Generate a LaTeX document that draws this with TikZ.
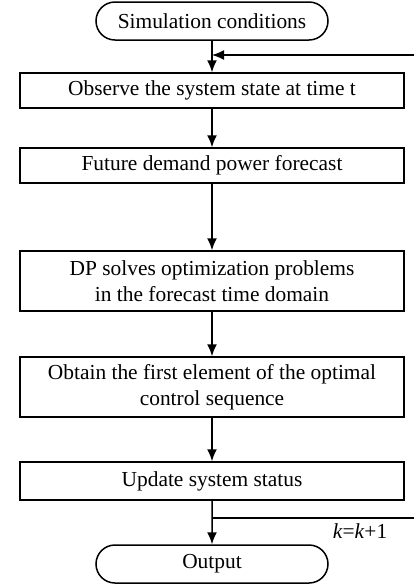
\documentclass[tikz,border=0pt]{standalone}
\usepackage{fontspec}
\setmainfont{Liberation Serif}
\usetikzlibrary{shapes.misc,arrows.meta}
\begin{document}
\begin{tikzpicture}[x=0.5pt,y=-0.5pt,
  font=\fontsize{10.7}{13}\selectfont,
  line width=0.75pt,
  procbox/.style={draw,rectangle,minimum width=192pt,align=center,inner sep=0pt},
  termbox/.style={draw,rounded rectangle,minimum width=116pt,minimum height=19pt,inner sep=0pt},
  flow/.style={-{Latex[length=6pt,width=5pt]}}]
\useasboundingbox (0,0) rectangle (414,585);
\node[termbox] (sim) at (212,21) {Simulation conditions};
\node[procbox,minimum height=17.5pt] (b1) at (212,90.5) {Observe the system state at time t};
\node[procbox,minimum height=17.5pt] (b2) at (212,165.5) {Future demand power forecast};
\node[procbox,minimum height=30pt] (b3) at (212,281) {DP solves optimization problems\\in the forecast time domain};
\node[procbox,minimum height=30pt] (b4) at (212,387) {Obtain the first element of the optimal\\control sequence};
\node[procbox,minimum height=19pt] (b5) at (212,481) {Update system status};
\node[termbox] (out) at (212,564) {Output};
\node (kk) at (360,531) {\textit{k}=\textit{k}+1};
\coordinate (fbin) at (414,55);
\coordinate (fbout) at (414,518);
\draw[flow] (sim.south) -- (b1.north);
\draw[flow] (fbin) -- (sim.south |- fbin);
\draw[flow] (b1) -- (b2);
\draw[flow] (b2) -- (b3);
\draw[flow] (b3) -- (b4);
\draw[flow] (b4) -- (b5);
\draw[flow] (b5) -- (out);
\draw (b5.south |- fbout) -- (fbout);
\end{tikzpicture}
\end{document}
